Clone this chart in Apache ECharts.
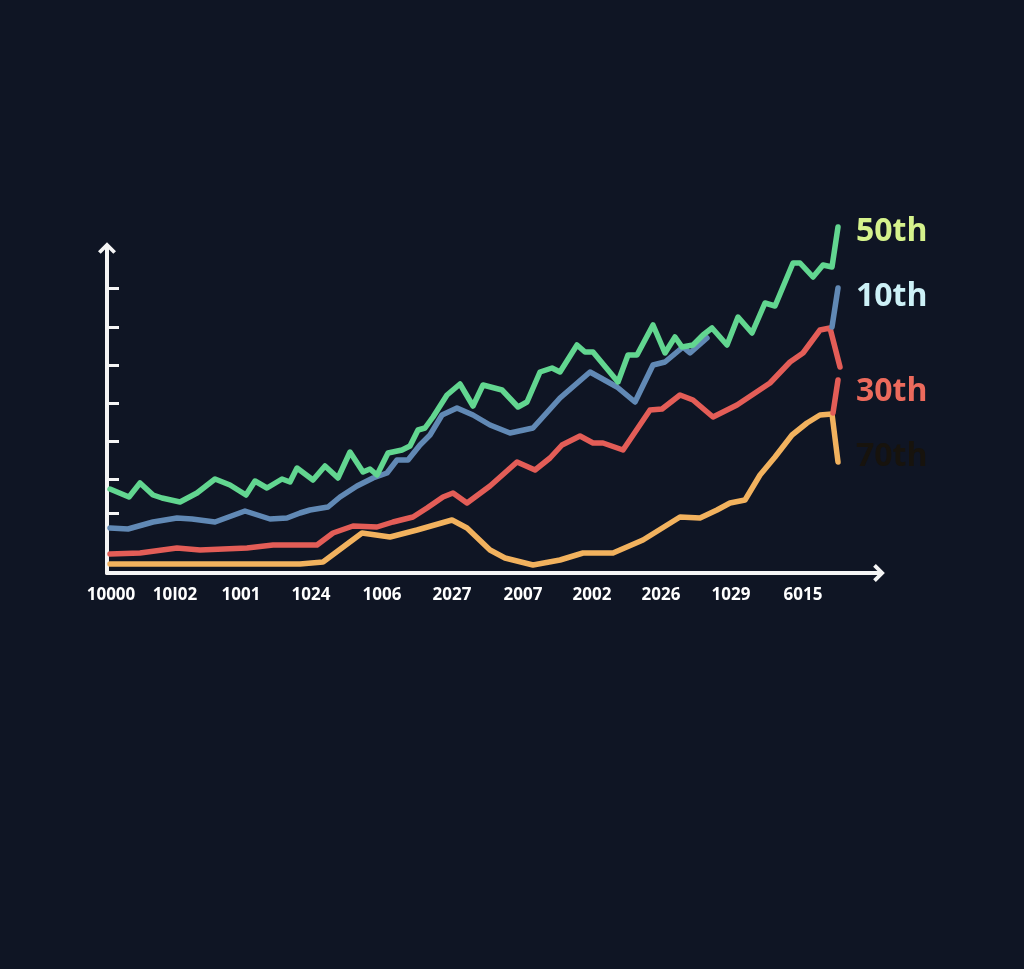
<!DOCTYPE html>
<html>
<head>
<meta charset="utf-8">
<script src="https://cdn.jsdelivr.net/npm/echarts@6/dist/echarts.min.js"></script>
<style>
html,body{margin:0;padding:0;background:#0f1524;}
#chart{width:1024px;height:969px;}
</style>
</head>
<body>
<div id="chart"></div>
<script>
// ---- data ----
const xTickPos = [4, 68, 134, 204, 275, 345, 416, 485, 554, 624, 696];
const xTickLabels = ['10000', '10I02', '1001', '1024', '1006', '2027', '2007', '2002', '2026', '1029', '6015'];
const yTickPos = [60, 94, 132, 170, 208, 246, 285];

const seriesNames = ['50th', '10th', '30th', '70th'];

const greenX = [3,22,33,46,55,73,90,108,123,139,148,160,175,183,190,206,218,231,243,256,263,270,281,295,303,311,318,326,340,353,366,376,395,411,420,433,445,453,470,478,486,511,521,530,546,558,568,575,586,596,605,620,631,645,658,668,686,693,706,716,725,731];
const greenY = [84,76,90,78,75,71,80,94,88,78,92,85,94,91,105,93,107,95,121,101,104,98,120,123,127,143,145,156,178,189,167,188,183,166,171,201,205,201,228,221,221,191,218,218,248,220,236,226,228,238,245,228,256,240,270,267,310,310,296,308,306,346];

const blueX = [3,21,46,70,85,108,138,163,180,193,203,221,233,250,266,280,290,301,313,323,335,350,366,383,403,426,453,483,510,528,546,558,576,583,600,612,725,731];
const blueY = [45,44,51,55,54,51,62,54,55,60,63,66,76,87,95,100,113,113,128,138,158,165,158,148,140,145,175,201,186,171,208,211,226,220,235,null,246,285];

const redX = [3,33,70,93,140,166,210,226,246,270,286,306,320,336,346,360,383,410,428,443,455,473,486,496,516,543,555,573,586,606,630,663,683,696,713,723,733,730,726,731];
const redY = [19,20,25,23,25,28,28,40,47,46,51,56,65,76,80,70,87,111,103,115,128,137,130,130,123,163,164,178,173,156,168,190,211,220,243,245,206,null,160,193];

const orangeX = [3,100,193,216,255,283,310,345,360,383,398,426,453,476,506,536,573,593,610,623,638,653,668,685,700,713,725,731];
const orangeY = [9,9,9,11,40,36,43,53,45,23,15,8,13,20,20,33,56,55,63,70,73,98,116,138,150,158,159,111];

const colors = ['#62d690', '#6189b5', '#e35d57', '#f2b25e'];
const labelColors = ['#d5f28c', '#cdf1f7', '#ec6a5c', '#17130d'];
const labelOffsets = [[10, 5], [10, 9], [10, 12], [10, -5]];

// ---- build ----
function zip(xs, ys) { return xs.map((x, i) => [x, ys[i]]); }
const allData = [zip(greenX, greenY), zip(blueX, blueY), zip(redX, redY), zip(orangeX, orangeY)];
const drawOrder = [3, 2, 1, 0];

const chart = echarts.init(document.getElementById('chart'));
const axisLineStyle = { color: '#f5f5f5', width: 4, cap: 'round' };
const chevron = 'path://M0,10 L10,0 L20,10 L17,13 L10,6 L3,13 Z';

chart.setOption({
  backgroundColor: '#0f1524',
  animation: false,
  grid: { left: 107, right: 145, top: 248, bottom: 396, containLabel: false },
  xAxis: {
    type: 'value', min: 0, max: 772,
    axisLine: { show: true, lineStyle: axisLineStyle, symbol: ['none', chevron], symbolSize: [18, 13] },
    axisTick: { show: false },
    splitLine: { show: false },
    axisLabel: {
      customValues: xTickPos,
      color: '#ffffff', fontFamily: 'Open Sans', fontWeight: 'bold', fontSize: 17, margin: 14,
      formatter: v => { const i = xTickPos.indexOf(v); return i >= 0 ? xTickLabels[i] : ''; }
    }
  },
  yAxis: {
    type: 'value', min: 0, max: 325,
    axisLine: { show: true, lineStyle: axisLineStyle, symbol: ['none', chevron], symbolSize: [18, 13] },
    axisTick: { show: true, inside: true, length: 12, customValues: yTickPos, lineStyle: { color: '#f5f5f5', width: 3 } },
    axisLabel: { show: false, customValues: yTickPos },
    splitLine: { show: false }
  },
  series: drawOrder.map(i => ({
    type: 'line',
    name: seriesNames[i],
    data: allData[i],
    showSymbol: false,
    clip: false,
    connectNulls: false,
    lineStyle: { color: colors[i], width: 5.5, cap: 'round', join: 'round' },
    itemStyle: { color: colors[i] },
    endLabel: {
      show: true,
      formatter: seriesNames[i],
      color: labelColors[i],
      fontFamily: 'Open Sans', fontWeight: 'bold', fontSize: 32,
      offset: labelOffsets[i]
    }
  }))
});
</script>
</body>
</html>
